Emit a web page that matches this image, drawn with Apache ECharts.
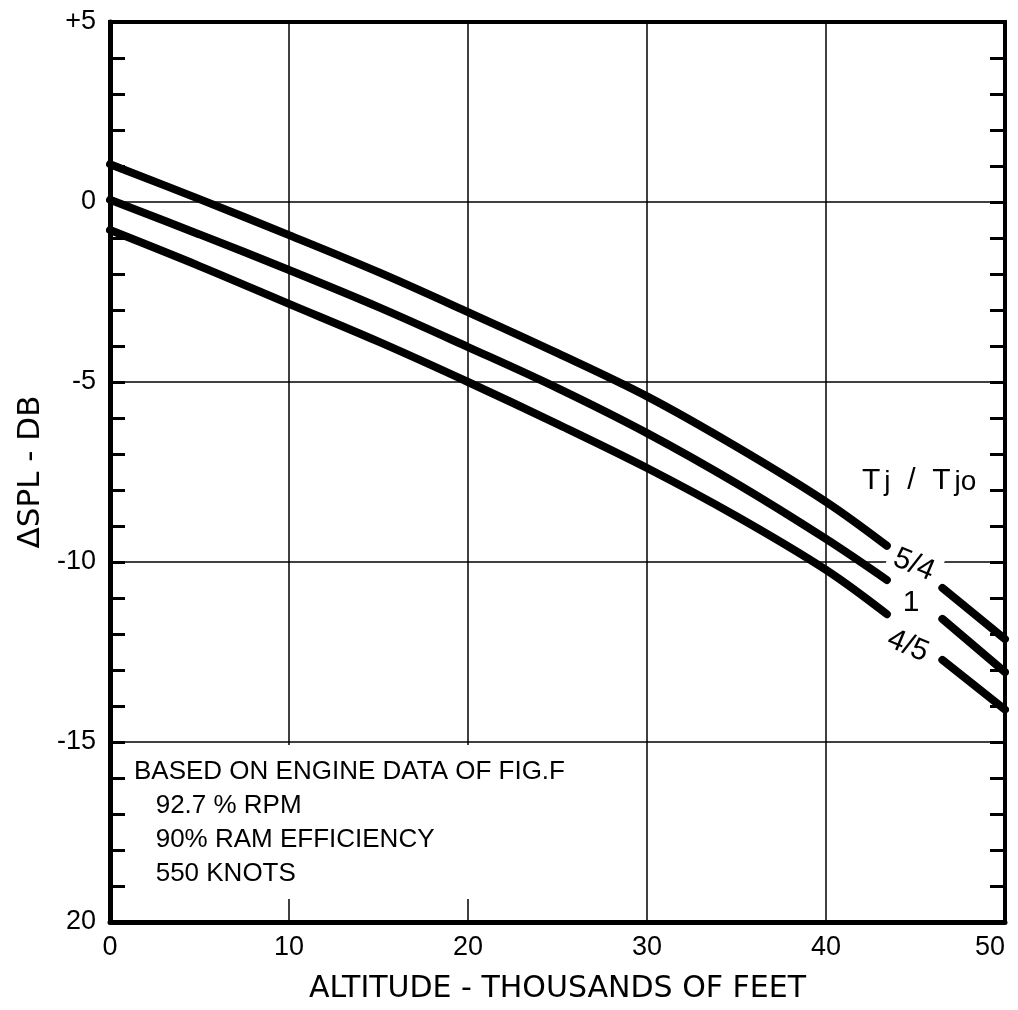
<!DOCTYPE html>
<html>
<head>
<meta charset="utf-8">
<script src="https://cdn.jsdelivr.net/npm/echarts@6/dist/echarts.min.js"></script>
<style>
  html, body { margin: 0; padding: 0; background: #fff; }
  #chart { width: 1018px; height: 1010px; }
</style>
</head>
<body>
<div id="chart"></div>
<script>
// altitude (thousands of ft) where values were read; null marks the label gap
const altitude = [0, 5, 10, 15, 20, 25, 30, 35, 40, 43.4, 45, 46.5, 50]
const ratio54 = [1.05, 0.08, -0.92, -1.95, -3.06, -4.2, -5.4, -6.8, -8.33, -9.55, null, -10.72, -12.14]
const ratio1 = [0.06, -0.9, -1.89, -2.92, -4.03, -5.17, -6.42, -7.82, -9.36, -10.5, null, -11.58, -13.06]
const ratio45 = [-0.78, -1.78, -2.83, -3.88, -5.0, -6.17, -7.39, -8.73, -10.22, -11.45, null, -12.72, -14.1]

const yTickLabels = { '5': '+5', '0': '0', '-5': '-5', '-10': '-10', '-15': '-15', '-20': '20' }
const noteLines = ['BASED ON ENGINE DATA OF FIG.F', '   92.7 % RPM', '   90% RAM EFFICIENCY', '   550 KNOTS']

const FONT = 'Liberation Sans'
const WIDE = 'DejaVu Sans'

function toPairs(vals) {
  return vals.map((v, i) => [altitude[i], v == null ? '-' : v])
}

function curve(name, vals) {
  return {
    name: name,
    type: 'line',
    data: toPairs(vals),
    smooth: 0.35,
    showSymbol: false,
    connectNulls: false,
    lineStyle: { color: '#000', width: 8, cap: 'round' },
    z: 3
  }
}

const chart = echarts.init(document.getElementById('chart'))

const yAxisBase = {
  type: 'value',
  min: -20,
  max: 5,
  interval: 5,
  axisLine: { show: true, onZero: false, lineStyle: { color: '#000', width: 5 } },
  axisTick: { show: true, inside: true, length: 15, lineStyle: { color: '#000', width: 3 } },
  minorTick: { show: true, splitNumber: 5, length: 15, lineStyle: { color: '#000', width: 3 } }
}

const option = {
  animation: false,
  backgroundColor: '#fff',
  grid: {
    left: 110, right: 13, top: 22, bottom: 88,
    outerBoundsMode: 'none',
    containLabel: false,
    show: true, borderColor: '#000', borderWidth: 4
  },
  xAxis: {
    type: 'value',
    min: 0,
    max: 50,
    interval: 10,
    name: 'ALTITUDE - THOUSANDS OF FEET',
    nameLocation: 'middle',
    nameGap: 52,
    nameTextStyle: { fontFamily: WIDE, fontSize: 30, color: '#000' },
    axisLine: { show: true, onZero: false, lineStyle: { color: '#000', width: 5 } },
    axisTick: { show: false },
    axisLabel: { fontFamily: FONT, fontSize: 27, color: '#000', margin: 12, alignMaxLabel: 'right' },
    splitLine: { show: true, lineStyle: { color: '#000', width: 1.5 } }
  },
  yAxis: [
    Object.assign({}, yAxisBase, {
      position: 'left',
      name: '\u0394SPL - DB',
      nameLocation: 'middle',
      nameGap: 64,
      nameTextStyle: { fontFamily: WIDE, fontSize: 31, color: '#000' },
      axisLabel: {
        fontFamily: FONT, fontSize: 27, color: '#000', margin: 14,
        formatter: v => yTickLabels[String(v)] || ''
      },
      splitLine: { show: true, lineStyle: { color: '#000', width: 1.5 } }
    }),
    Object.assign({}, yAxisBase, {
      position: 'right',
      axisLine: { show: true, onZero: false, lineStyle: { color: '#000', width: 4 } },
      axisLabel: { show: false },
      splitLine: { show: false }
    })
  ],
  series: [
    curve('5/4', ratio54),
    curve('1', ratio1),
    curve('4/5', ratio45)
  ],
  graphic: [
    {
      type: 'rect',
      shape: { x: 128, y: 745, width: 440, height: 154 },
      style: { fill: '#fff' },
      z: 10
    },
    {
      type: 'text',
      left: 134, top: 755,
      z: 11,
      style: {
        text: noteLines.join('\n'),
        fontFamily: FONT, fontSize: 26, lineHeight: 34, fill: '#000'
      }
    },
    {
      type: 'text',
      left: 862, top: 466,
      z: 11,
      style: {
        text: '{b|T}{s|j}{b|  /  T}{s|jo}',
        rich: {
          b: { fontFamily: FONT, fontSize: 30, color: '#000', verticalAlign: 'bottom' },
          s: { fontFamily: FONT, fontSize: 28, color: '#000', padding: [12, 0, 0, 4] }
        }
      }
    },
    {
      type: 'text',
      x: 914, y: 565,
      rotation: -0.4,
      z: 11,
      style: {
        text: '5/4', fontFamily: FONT, fontSize: 30, fill: '#000',
        align: 'center', verticalAlign: 'middle',
        backgroundColor: '#fff', padding: [2, 6]
      }
    },
    {
      type: 'text',
      x: 911, y: 603,
      z: 11,
      style: {
        text: '1', fontFamily: FONT, fontSize: 30, fill: '#000',
        align: 'center', verticalAlign: 'middle'
      }
    },
    {
      type: 'text',
      x: 908, y: 646,
      rotation: -0.4,
      z: 11,
      style: {
        text: '4/5', fontFamily: FONT, fontSize: 30, fill: '#000',
        align: 'center', verticalAlign: 'middle'
      }
    }
  ]
}

chart.setOption(option)
</script>
</body>
</html>
